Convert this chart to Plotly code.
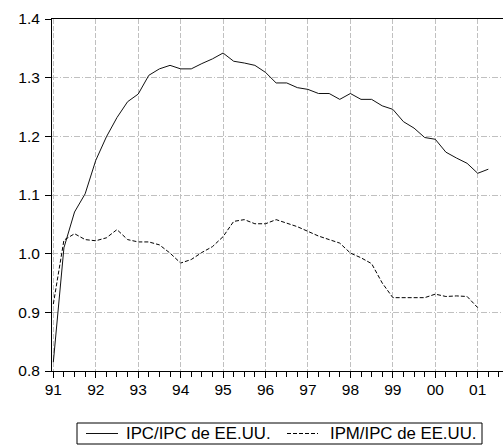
import plotly.graph_objects as go

# Quarterly observations, 1991Q1 onward
start_year = 1991
ipc_ratio = [0.815, 1.010, 1.071, 1.102, 1.159, 1.199, 1.232, 1.259,
             1.272, 1.304, 1.315, 1.321, 1.315, 1.315, 1.324, 1.332,
             1.342, 1.328, 1.325, 1.321, 1.309, 1.291, 1.291, 1.283,
             1.280, 1.273, 1.273, 1.263, 1.273, 1.263, 1.263, 1.252,
             1.246, 1.225, 1.214, 1.198, 1.195, 1.173, 1.163, 1.154,
             1.137, 1.144]
ipm_ratio = [0.914, 1.023, 1.034, 1.024, 1.022, 1.027, 1.041, 1.024,
             1.020, 1.020, 1.015, 1.001, 0.984, 0.990, 1.002, 1.012,
             1.029, 1.055, 1.058, 1.051, 1.051, 1.058, 1.052, 1.046,
             1.038, 1.030, 1.024, 1.018, 1.001, 0.993, 0.983, 0.950,
             0.925, 0.925, 0.925, 0.925, 0.931, 0.927, 0.928, 0.927,
             0.908]
series_names = ["IPC/IPC de EE.UU.", "IPM/IPC de EE.UU."]
year_ticks = list(range(1991, 2002))
year_labels = ["91", "92", "93", "94", "95", "96", "97", "98", "99", "00", "01"]
y_ticks = [0.8, 0.9, 1.0, 1.1, 1.2, 1.3, 1.4]
y_labels = ["0.8", "0.9", "1.0", "1.1", "1.2", "1.3", "1.4"]

t_ipc = [start_year + i / 4 for i in range(len(ipc_ratio))]
t_ipm = [start_year + i / 4 for i in range(len(ipm_ratio))]

line_styles = [dict(color="#111111", width=1), dict(color="black", width=1, dash="4px,2px")]

fig = go.Figure()
fig.add_trace(go.Scatter(x=t_ipc, y=ipc_ratio, mode="lines", name=series_names[0],
                         line=line_styles[0], showlegend=False))
fig.add_trace(go.Scatter(x=t_ipm, y=ipm_ratio, mode="lines", name=series_names[1],
                         line=line_styles[1], showlegend=False))

font = "Liberation Sans, Arial, sans-serif"
fs = 15.5

# Legend box drawn below the plot (paper coordinates)
W, H = 503, 447
ml, mr, mt, mb = 52, 0, 19, 76
pw, ph = W - ml - mr, H - mt - mb
def px_x(p):
    return (p - ml) / pw
def px_y(p):
    return (H - mb - p) / ph

shapes = [dict(type="rect", xref="paper", yref="paper",
               x0=px_x(77), x1=px_x(482), y0=px_y(444), y1=px_y(423),
               line=dict(color="black", width=1), fillcolor="white", layer="above")]
sample_x = [(86, 118), (287, 318)]
text_x = [124, 328]
ly = px_y(433.5)
annotations = []
for i in range(2):
    shapes.append(dict(type="line", xref="paper", yref="paper",
                       x0=px_x(sample_x[i][0]), x1=px_x(sample_x[i][1]), y0=ly, y1=ly,
                       line=line_styles[i], layer="above"))
    annotations.append(dict(text=series_names[i], xref="paper", yref="paper",
                            x=px_x(text_x[i]), y=ly, xanchor="left", yanchor="middle",
                            showarrow=False, font=dict(family=font, size=16.8, color="black")))

fig.update_layout(
    width=W, height=H,
    margin=dict(l=ml, r=mr, t=mt, b=mb),
    paper_bgcolor="white", plot_bgcolor="white",
    font=dict(family=font, size=fs, color="black"),
    showlegend=False,
    shapes=shapes, annotations=annotations,
)
fig.update_xaxes(
    range=[1990.969, 2001.596],
    tickmode="array", tickvals=year_ticks, ticktext=year_labels,
    ticks="outside", ticklen=6, tickcolor="black", tickwidth=1,
    showline=True, linecolor="black", linewidth=1, mirror=True,
    showgrid=True, gridcolor="#c0c0c0", gridwidth=1, griddash="5px,2px",
    zeroline=False,
    minor=dict(dtick=0.25, tick0=1991, ticks="outside", ticklen=5, tickcolor="black", showgrid=False),
    tickfont=dict(size=fs), ticklabelstandoff=-2,
)
fig.update_yaxes(
    range=[0.8, 1.4],
    tickmode="array", tickvals=y_ticks, ticktext=y_labels,
    ticks="outside", ticklen=6, tickcolor="black", tickwidth=1,
    showline=True, linecolor="black", linewidth=1,
    showgrid=True, gridcolor="#c0c0c0", gridwidth=1, griddash="6px,2px,1px,2px",
    zeroline=False,
    tickfont=dict(size=fs), ticklabelstandoff=2,
)
fig.write_html("out.html")
